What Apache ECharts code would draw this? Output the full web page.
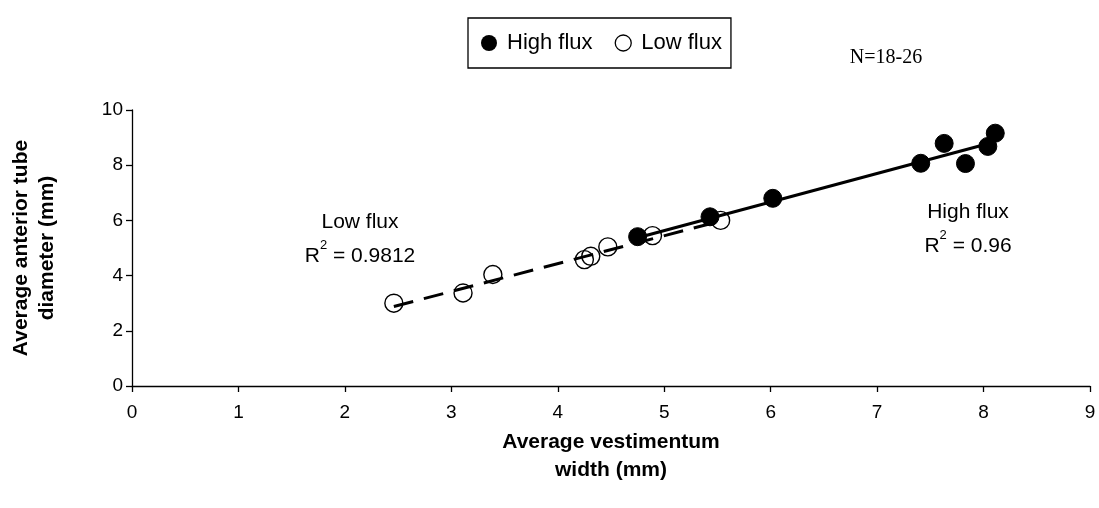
<!DOCTYPE html>
<html>
<head>
<meta charset="utf-8">
<script src="https://cdn.jsdelivr.net/npm/echarts@6/dist/echarts.min.js"></script>
<style>html,body{margin:0;padding:0;background:#fff}#c{width:1099px;height:508px}</style>
</head>
<body>
<div id="c"></div>
<script>
const highFluxX = [4.75, 5.43, 6.02, 7.41, 7.63, 7.83, 8.04, 8.11];
const highFluxY = [5.41, 6.13, 6.80, 8.07, 8.79, 8.06, 8.68, 9.16];
const lowFluxX = [2.46, 3.11, 3.39, 4.25, 4.31, 4.47, 4.89, 5.53];
const lowFluxY = [3.00, 3.37, 4.04, 4.58, 4.70, 5.04, 5.45, 6.00];
const highTrendX = [4.75, 8.11];
const highTrendY = [5.37, 8.85];
const lowTrendX = [2.46, 5.53];
const lowTrendY = [2.88, 5.98];
const xTicks = [0,1,2,3,4,5,6,7,8,9];
const yTicks = [0,2,4,6,8,10];

const zip = (a, b) => a.map((v, i) => [v, b[i]]);
const font = 'Liberation Sans, Arial, sans-serif';
const rich = {
  a: {fontFamily: font, fontSize: 21, fill: '#000', lineHeight: 34},
  s: {fontFamily: font, fontSize: 13, fill: '#000', verticalAlign: 'top', lineHeight: 34, padding: [0, 0, 12, 0]}
};

const chart = echarts.init(document.getElementById('c'), null, {renderer: 'canvas'});
chart.setOption({
  animation: false,
  backgroundColor: '#fff',
  grid: {left: 129, right: 9, top: 110, bottom: 122, containLabel: false},
  legend: {
    data: [
      {name: 'High flux', icon: 'circle', itemStyle: {color: '#000', borderColor: '#000'}},
      {name: 'Low flux', icon: 'circle', itemStyle: {color: '#fff', borderColor: '#000', borderWidth: 1.3}}
    ],
    left: 468, top: 18,
    itemWidth: 16, itemHeight: 16, itemGap: 22,
    padding: [14, 9, 14, 13],
    borderColor: '#000', borderWidth: 1.3,
    textStyle: {fontFamily: font, fontSize: 22, lineHeight: 22, color: '#000', padding: [0, 0, 0, 5]}
  },
  xAxis: {
    type: 'value', min: 0, max: 9, interval: 1,
    name: 'Average vestimentum\nwidth (mm)', nameLocation: 'middle', nameGap: 42,
    nameTextStyle: {fontFamily: font, fontSize: 21, fontWeight: 'bold', color: '#000', lineHeight: 28},
    axisLine: {lineStyle: {color: '#000', width: 1.3}},
    axisTick: {show: true, length: 6, lineStyle: {color: '#000', width: 1.3}},
    axisLabel: {fontFamily: font, fontSize: 19, color: '#000', margin: 17,
      formatter: v => xTicks.includes(v) ? String(v) : ''},
    splitLine: {show: false}
  },
  yAxis: {
    type: 'value', min: 0, max: 10, interval: 2,
    name: 'Average anterior tube\ndiameter (mm)', nameLocation: 'middle', nameGap: 72,
    nameTextStyle: {fontFamily: font, fontSize: 21, fontWeight: 'bold', color: '#000', lineHeight: 26},
    axisLine: {show: true, lineStyle: {color: '#000', width: 1.3}},
    axisTick: {show: true, length: 6, lineStyle: {color: '#000', width: 1.3}},
    axisLabel: {fontFamily: font, fontSize: 19, color: '#000', margin: 9,
      formatter: v => yTicks.includes(v) ? String(v) : ''},
    splitLine: {show: false}
  },
  series: [
    {name: 'High flux trend', type: 'line', data: zip(highTrendX, highTrendY), symbol: 'none',
      lineStyle: {color: '#000', width: 3, type: 'solid'}, z: 3, silent: true},
    {name: 'Low flux trend', type: 'line', data: zip(lowTrendX, lowTrendY), symbol: 'none',
      lineStyle: {color: '#000', width: 3, type: [20, 11]}, z: 3, silent: true},
    {name: 'High flux', type: 'scatter', data: zip(highFluxX, highFluxY), symbol: 'circle', symbolSize: 18,
      itemStyle: {color: '#000', borderColor: '#000', opacity: 1}, z: 4},
    {name: 'Low flux', type: 'scatter', data: zip(lowFluxX, lowFluxY), symbol: 'circle', symbolSize: 18,
      itemStyle: {color: 'rgba(0,0,0,0)', borderColor: '#000', borderWidth: 1.4, opacity: 1}, z: 4}
  ],
  graphic: [
    {type: 'text', x: 886, y: 58, style: {text: 'N=18-26', font: '20px "Liberation Serif", "Times New Roman", serif', fill: '#000', align: 'center', verticalAlign: 'middle'}},
    {type: 'text', x: 360, y: 239, style: {
      text: '{a|Low flux}\n{a|R}{s|2}{a| = 0.9812}', align: 'center', verticalAlign: 'middle', rich: rich
    }},
    {type: 'text', x: 968, y: 229, style: {
      text: '{a|High flux}\n{a|R}{s|2}{a| = 0.96}', align: 'center', verticalAlign: 'middle', rich: rich
    }}
  ]
});
</script>
</body>
</html>
